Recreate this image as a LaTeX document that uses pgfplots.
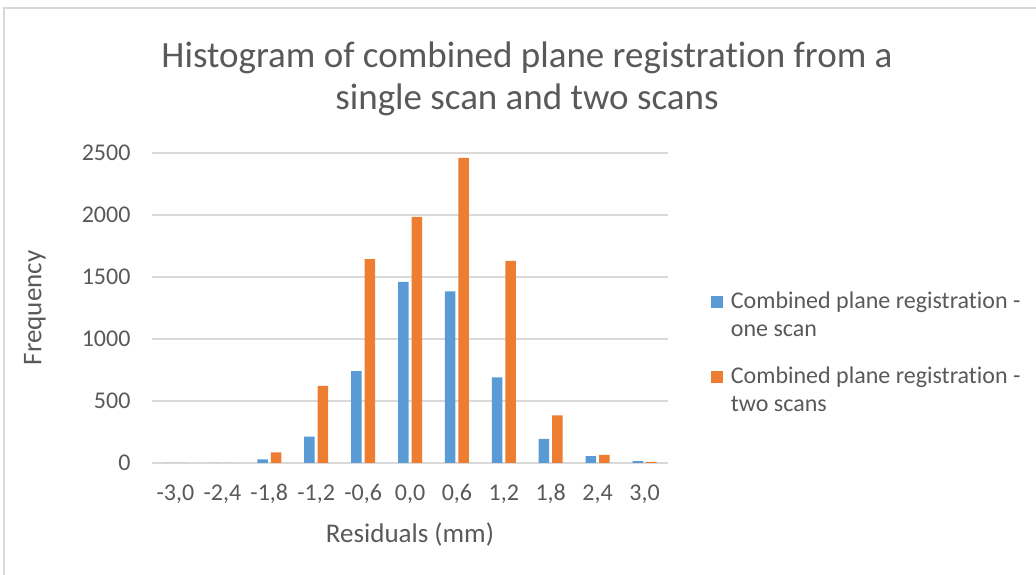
\documentclass[border=0pt]{standalone}
\usepackage{pgfplots}
\pgfplotsset{compat=1.18}
\usepackage{fontspec}
\setmainfont{Carlito}[Ligatures=NoCommon]
\definecolor{cblue}{HTML}{5B9BD5}
\definecolor{corange}{HTML}{ED7D31}
\definecolor{txt}{HTML}{595959}
\definecolor{gridc}{HTML}{D9D9D9}
\begin{document}
\begin{tikzpicture}
\useasboundingbox (0pt,0pt) rectangle (1036pt,575pt);
\draw[gridc, line width=1.2pt] (4pt,0pt) -- (4pt,567pt) -- (1036pt,567pt);
\node[text=txt, font=\fontsize{37}{42}\selectfont, align=center] at (527pt,496pt) {Histogram of combined plane registration from a\\single scan and two scans};
\begin{axis}[
  at={(152pt,112pt)}, anchor=south west,
  scale only axis, width=516pt, height=310pt,
  xmin=-0.5, xmax=10.5, ymin=0, ymax=2500,
  ybar=3pt, bar width=10.5pt,
  xtick={0,...,10},
  xticklabels={{-3,0},{-2,4},{-1,8},{-1,2},{-0,6},{0,0},{0,6},{1,2},{1,8},{2,4},{3,0}},
  ytick={0,500,...,2500},
  ymajorgrids, grid style={gridc, line width=1.2pt},
  axis x line*=bottom, axis y line*=left,
  x axis line style={gridc, line width=1.4pt, -},
  y axis line style={draw=none},
  major tick length=0pt,
  tick label style={text=txt, font=\fontsize{24}{28}\selectfont},
  xticklabel style={yshift=-18pt},
  yticklabel style={xshift=-18pt},
  /pgf/number format/assume math mode=true,
  /pgf/number format/1000 sep={},
  every axis y label/.style={at={(axis description cs:-0.227,0.5)}, rotate=90, anchor=center, text=txt, font=\fontsize{27}{32}\selectfont},
  every axis x label/.style={at={(axis description cs:0.5,-0.232)}, anchor=center, text=txt, font=\fontsize{27}{32}\selectfont},
  ylabel={Frequency}, xlabel={Residuals (mm)},
  legend style={at={(axis description cs:1.077,0.562)}, anchor=north west, draw=none, fill=none,
    font=\fontsize{24}{28}\selectfont, text=txt, row sep=27pt,
    nodes={align=left, inner sep=1pt, inner xsep=8pt}},
  legend cell align=left,
  legend image code/.code={\fill (0pt,7pt) rectangle (12pt,19pt);},
]
\addplot[fill=cblue, draw=none] coordinates {(0,0) (1,0) (2,30) (3,212) (4,740) (5,1460) (6,1385) (7,690) (8,195) (9,55) (10,15)};
\addplot[fill=corange, draw=none] coordinates {(0,0) (1,0) (2,86) (3,621) (4,1645) (5,1985) (6,2460) (7,1630) (8,385) (9,65) (10,10)};
\legend{{Combined plane registration -\\one scan},{Combined plane registration -\\two scans}}
\end{axis}
\end{tikzpicture}
\end{document}
